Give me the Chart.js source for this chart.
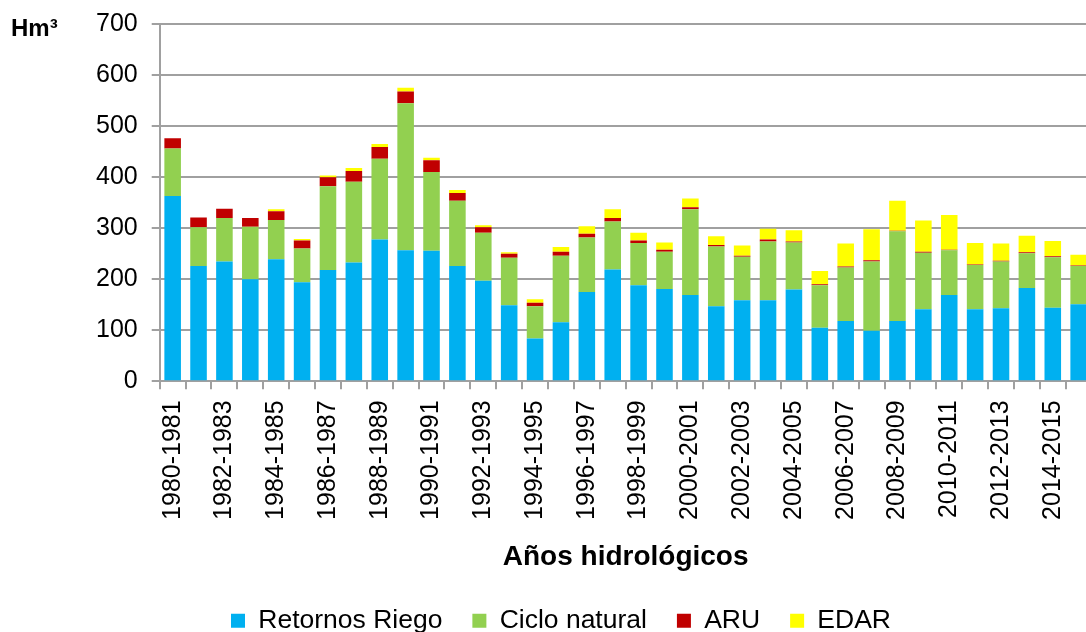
<!DOCTYPE html>
<html>
<head>
<meta charset="utf-8">
<script src="https://cdn.jsdelivr.net/npm/chart.js@4/dist/chart.umd.min.js"></script>
<style>
  html, body { margin: 0; padding: 0; background: #fff; overflow: hidden; }
  #wrap { width: 1120px; height: 632px; position: relative; }
</style>
</head>
<body>
<div id="wrap"><canvas id="chart"></canvas></div>
<script>
// hydrological years 1980-1981 ... 2015-2016
const years = [];
for (let y = 1980; y <= 2015; y++) years.push(y + "-" + (y + 1));

const retornosRiego = [363, 226, 235, 200, 239, 194, 218, 233, 278, 257, 256, 226,
  197, 149, 84, 116, 175, 219, 188, 181, 169, 147, 159, 159,
  180, 105, 118, 99, 118, 141, 169, 141, 143, 183, 144, 151];
const cicloNatural = [93, 76, 85, 103, 77, 66, 164, 158, 158, 288, 154, 128,
  94, 93, 63, 130, 107, 94, 83, 73, 168, 117, 85, 115,
  92, 83, 105, 136, 176, 111, 88, 87, 92, 68, 99, 75];
const aru = [20, 19, 18, 17, 17, 16, 18, 21, 23, 23, 23, 15,
  11, 8, 7, 8, 7, 7, 5, 4, 4, 3, 2, 4,
  2, 2, 2, 2, 1, 2, 1, 1, 1, 2, 2, 1];
const edar = [0, 0, 0, 0, 4, 3, 3, 6, 6, 7, 5, 6,
  4, 3, 7, 9, 15, 17, 15, 14, 17, 17, 20, 21,
  22, 26, 45, 61, 59, 61, 68, 42, 34, 32, 30, 21];

const yTicks = [0, 100, 200, 300, 400, 500, 600, 700];
const seriesNames = ["Retornos Riego", "Ciclo natural", "ARU", "EDAR"];
const seriesColors = ["#00B0F0", "#92D050", "#C00000", "#FFFF00"];

Chart.defaults.font.family = "'Liberation Sans', Arial, sans-serif";
Chart.defaults.color = "#000";

const gridGray = "#a0a0a0";

// "Hm³" unit label top left
const unitLabel = {
  id: "unitLabel",
  afterDraw(chart) {
    const ctx = chart.ctx;
    ctx.save();
    ctx.font = "bold 24px 'Liberation Sans', Arial, sans-serif";
    ctx.fillStyle = "#000";
    ctx.textBaseline = "alphabetic";
    ctx.fillText("Hm³", 11, 36);
    ctx.restore();
  }
};

// legend sits a bit left of the plot centre, like the original
const legendShift = {
  id: "legendShift",
  afterLayout(chart) {
    chart.legend.left -= 28;
    chart.legend.right -= 28;
  }
};

const series = [retornosRiego, cicloNatural, aru, edar];

new Chart(document.getElementById("chart"), {
  type: "bar",
  data: {
    labels: years,
    datasets: series.map((d, i) => ({
      label: seriesNames[i],
      data: d,
      backgroundColor: seriesColors[i],
      borderWidth: 0,
      barPercentage: 0.64,
      categoryPercentage: 1
    }))
  },
  options: {
    responsive: true,
    maintainAspectRatio: false,
    animation: false,
    layout: { padding: { left: 82, right: 24, top: 24, bottom: -12 } },
    plugins: {
      tooltip: { enabled: false },
      legend: {
        position: "bottom",
        labels: {
          boxWidth: 14,
          boxHeight: 14,
          padding: 30,
          font: { size: 26.5 },
          color: "#000"
        }
      }
    },
    scales: {
      x: {
        stacked: true,
        grid: { drawOnChartArea: false, offset: true, tickLength: 8, color: gridGray, lineWidth: 2 },
        border: { color: gridGray, width: 2 },
        ticks: {
          autoSkip: false,
          maxRotation: 90,
          minRotation: 90,
          padding: 11,
          font: { size: 25 },
          color: "#000",
          callback: (v, i) => (i % 2 === 0 ? years[i] : "")
        },
        title: {
          display: true,
          text: "Años hidrológicos",
          font: { size: 28, weight: "bold" },
          color: "#000",
          padding: { top: 10, bottom: 3 }
        }
      },
      y: {
        stacked: true,
        min: yTicks[0],
        max: yTicks[yTicks.length - 1],
        afterBuildTicks: axis => { axis.ticks = yTicks.map(v => ({ value: v })); },
        afterFit: axis => { axis.paddingTop = 0; },
        grid: { color: gridGray, lineWidth: 2, tickLength: 8 },
        border: { color: gridGray, width: 2 },
        ticks: { padding: 14, font: { size: 25 }, color: "#000" }
      }
    }
  },
  plugins: [unitLabel, legendShift]
});
</script>
</body>
</html>
